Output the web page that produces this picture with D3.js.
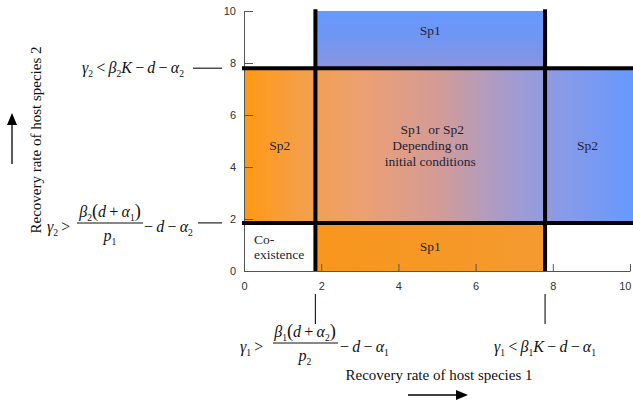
<!DOCTYPE html>
<html>
<head>
<meta charset="utf-8">
<script src="https://cdn.jsdelivr.net/npm/d3@7"></script>
<style>
  html, body { margin: 0; padding: 0; background: #fff; }
  svg { display: block; }
</style>
</head>
<body>
<svg id="chart" width="633" height="401"></svg>
<script>
// Axis ticks (recovery rates of host species 1 and 2)
const xTicks = [0, 2, 4, 6, 8, 10];
const yTicks = [0, 2, 4, 6, 8, 10];

// Threshold values splitting the parameter plane
const gamma1Breaks = [0, 1.85, 7.8, 10];   // species 1 recovery rate
const gamma2Breaks = [0, 1.85, 7.8, 10];   // species 2 recovery rate

// Outcome in each cell, rows from low to high gamma2, columns from low to high gamma1
const outcomeRows = [
  ["Co-existence", "Sp1 low", null],
  ["Sp2 left", "Either", "Sp2 right"],
  [null, "Sp1 top", null]
];
const outcomeLabels = {
  "Co-existence": ["Co-", "existence"],
  "Sp1 low": ["Sp1"],
  "Sp2 left": ["Sp2"],
  "Either": ["Sp1  or Sp2", "Depending on", "initial conditions"],
  "Sp2 right": ["Sp2"],
  "Sp1 top": ["Sp1"]
};

const svg = d3.select("#chart");
const serif = "'Liberation Serif', 'Times New Roman', serif";
const sans = "'Liberation Sans', Arial, sans-serif";

const x = d3.scaleLinear().domain([0, 10]).range([244, 630]);
const y = d3.scaleLinear().domain([0, 10]).range([271, 11]);

// Gradients
const defs = svg.append("defs");
const band = defs.append("linearGradient")
  .attr("id", "midBand").attr("gradientUnits", "userSpaceOnUse")
  .attr("x1", x(0)).attr("x2", x(10.1)).attr("y1", 0).attr("y2", 0);
[[0, "#ff9914"], [0.17, "#f3a050"], [0.3, "#eda072"], [0.5, "#d39b97"],
 [0.7, "#a09bd4"], [0.8, "#8c9ae4"], [1, "#6699ff"]]
  .forEach(([o, c]) => band.append("stop").attr("offset", o).attr("stop-color", c));

const topGrad = defs.append("linearGradient")
  .attr("id", "topBand").attr("x1", 0).attr("x2", 0).attr("y1", 0).attr("y2", 1);
[[0, "#6698ff"], [0.5, "#7196f2"], [1, "#8c94dc"]]
  .forEach(([o, c]) => topGrad.append("stop").attr("offset", o).attr("stop-color", c));

const lowGrad = defs.append("linearGradient")
  .attr("id", "lowBand").attr("x1", 0).attr("x2", 1).attr("y1", 0).attr("y2", 0);
[[0, "#f8961c"], [1, "#f49a30"]]
  .forEach(([o, c]) => lowGrad.append("stop").attr("offset", o).attr("stop-color", c));

const fillFor = key => {
  if (key === "Co-existence") return "#ffffff";
  if (key === "Sp1 low") return "url(#lowBand)";
  if (key === "Sp1 top") return "url(#topBand)";
  return "url(#midBand)";
};

// Cells
const cells = [];
outcomeRows.forEach((row, r) => row.forEach((key, c) => {
  if (key) cells.push({
    key,
    x0: gamma1Breaks[c], x1: c === 2 ? 10.1 : gamma1Breaks[c + 1],
    y0: gamma2Breaks[r], y1: gamma2Breaks[r + 1]
  });
}));

svg.append("g").selectAll("rect").data(cells).join("rect")
  .attr("x", d => x(d.x0)).attr("y", d => y(d.y1))
  .attr("width", d => x(d.x1) - x(d.x0))
  .attr("height", d => y(d.y0) - y(d.y1))
  .attr("fill", d => fillFor(d.key));

// Axes with inward ticks
const axisColor = "#555";
const gx = svg.append("g").attr("transform", `translate(0,${y(0)})`)
  .call(d3.axisBottom(x).tickValues(xTicks).tickSize(-7).tickPadding(11).tickSizeOuter(0));
const gy = svg.append("g").attr("transform", `translate(${x(0)},0)`)
  .call(d3.axisLeft(y).tickValues(yTicks).tickSize(-9).tickPadding(8).tickSizeOuter(0));
[gx, gy].forEach(g => {
  g.select(".domain").attr("stroke", axisColor);
  g.selectAll(".tick line").attr("stroke", axisColor);
  g.selectAll(".tick text").attr("fill", "#333").style("font-family", sans).style("font-size", "11px");
});
// keep the last x label inside the frame
gx.selectAll(".tick text").filter(d => d === 10).attr("text-anchor", "end").attr("dx", 1);

// Threshold lines
const thick = svg.append("g").attr("stroke", "#000").attr("stroke-width", 4);
[gamma2Breaks[1], gamma2Breaks[2]].forEach(v => {
  thick.append("line").attr("x1", x(0) - 2).attr("x2", 633).attr("y1", y(v)).attr("y2", y(v));
});
[gamma1Breaks[1], gamma1Breaks[2]].forEach(v => {
  thick.append("line").attr("x1", x(v)).attr("x2", x(v)).attr("y1", y(10.07)).attr("y2", y(0));
});

// Outcome labels
const labelPos = {
  "Co-existence": { dx: 10, anchor: "start", top: 244, lh: 14.5 }
};
cells.forEach(d => {
  const lines = outcomeLabels[d.key];
  const p = labelPos[d.key] || {};
  const cx = p.anchor === "start" ? x(d.x0) + p.dx : (x(d.x0) + x(Math.min(d.x1, 10))) / 2;
  let cy = (y(d.y0) + y(d.y1)) / 2;
  if (d.key === "Sp1 top") cy = 30;
  const lh = p.lh || 16;
  const first = p.top !== undefined ? p.top : cy - (lines.length - 1) * lh / 2 + 4.5;
  const t = svg.append("text")
    .attr("text-anchor", p.anchor || "middle")
    .attr("fill", "#231f35")
    .style("font-family", serif).style("font-size", "13.5px");
  lines.forEach((ln, i) => t.append("tspan").attr("x", cx + (d.key === "Either" && i === 0 ? 2 : 0))
    .attr("y", first + i * lh).attr("xml:space", "preserve").text(ln));
});

// Math expression renderer: segments of {t, it, sub, big}
function mathRun(g, xPos, base, segs, size, anchor) {
  const t = g.append("text").attr("x", xPos).attr("y", base)
    .attr("text-anchor", anchor || "start")
    .attr("fill", "#111").style("font-family", serif).style("font-size", size + "px");
  let lowered = false;
  segs.forEach(s => {
    const sp = t.append("tspan").text(s.t);
    if (s.it) sp.style("font-style", "italic");
    if (s.big) sp.style("font-size", (size * 1.15) + "px");
    if (s.sub) {
      sp.style("font-size", (size * 0.6) + "px");
      if (!lowered) { sp.attr("dy", size * 0.25); lowered = true; }
    } else if (lowered) { sp.attr("dy", -size * 0.25); lowered = false; }
    if (s.gap) sp.attr("dx", s.gap);
  });
  return t;
}
const sym = (t, gap) => ({ t, gap });
const big = t => ({ t, big: true });
const it = (t, gap) => ({ t, it: true, gap });
const sub = t => ({ t, sub: true });
const op = o => sym("\u2009" + o + "\u2009");

const fs = 16;
const mg = svg.append("g");

// gamma2 < beta2 K - d - alpha2
mathRun(mg, 184, 73, [it("γ"), sub("2"), op("<"), it("β"), sub("2"), it("K"), op("−"), it("d"), op("−"), it("α"), sub("2")], fs, "end");

// gamma2 > beta2 (d + alpha1) / p1 - d - alpha2
mathRun(mg, 47, 232, [it("γ"), sub("2"), op(">")], fs);
mathRun(mg, 110, 217, [it("β"), sub("2"), big("("), it("d"), op("+"), it("α"), sub("1"), big(")")], fs, "middle");
mg.append("line").attr("x1", 77).attr("x2", 143).attr("y1", 223).attr("y2", 223).attr("stroke", "#111").attr("stroke-width", 1);
mathRun(mg, 110, 241, [it("p"), sub("1")], fs, "middle");
mathRun(mg, 144, 232, [sym("−\u2009"), it("d"), op("−"), it("α"), sub("2")], fs);

// gamma1 > beta1 (d + alpha2) / p2 - d - alpha1
mathRun(mg, 240, 352, [it("γ"), sub("1"), op(">")], fs);
mathRun(mg, 305, 337, [it("β"), sub("1"), big("("), it("d"), op("+"), it("α"), sub("2"), big(")")], fs, "middle");
mg.append("line").attr("x1", 273).attr("x2", 338).attr("y1", 343).attr("y2", 343).attr("stroke", "#111").attr("stroke-width", 1);
mathRun(mg, 305, 361, [it("p"), sub("2")], fs, "middle");
mathRun(mg, 340, 352, [sym("−\u2009"), it("d"), op("−"), it("α"), sub("1")], fs);

// gamma1 < beta1 K - d - alpha1
mathRun(mg, 494, 352, [it("γ"), sub("1"), op("<"), it("β"), sub("1"), it("K"), op("−"), it("d"), op("−"), it("α"), sub("1")], fs);

// Connector ticks from thresholds to expressions
const conn = svg.append("g").attr("stroke", "#222").attr("stroke-width", 1.2);
conn.append("line").attr("x1", 193).attr("x2", 222).attr("y1", y(gamma2Breaks[2])).attr("y2", y(gamma2Breaks[2]));
conn.append("line").attr("x1", 198).attr("x2", 222).attr("y1", y(gamma2Breaks[1])).attr("y2", y(gamma2Breaks[1]));
[gamma1Breaks[1], gamma1Breaks[2]].forEach(v =>
  conn.append("line").attr("x1", x(v)).attr("x2", x(v)).attr("y1", 294).attr("y2", 324));

// Axis titles with direction arrows
function arrow(x1, y1, x2, y2) {
  const ang = Math.atan2(y2 - y1, x2 - x1);
  const len = 12, half = 5;
  const bx = x2 - len * Math.cos(ang), by = y2 - len * Math.sin(ang);
  svg.append("line").attr("x1", x1).attr("y1", y1).attr("x2", bx).attr("y2", by)
    .attr("stroke", "#000").attr("stroke-width", 1.3);
  const px = -Math.sin(ang) * half, py = Math.cos(ang) * half;
  svg.append("path")
    .attr("d", `M${x2},${y2}L${bx + px},${by + py}L${bx - px},${by - py}Z`)
    .attr("fill", "#000");
}

svg.append("text").attr("x", 439).attr("y", 380).attr("text-anchor", "middle")
  .attr("fill", "#111").style("font-family", serif).style("font-size", "15px")
  .text("Recovery rate of host species 1");
arrow(408, 395, 468, 395);

svg.append("text").attr("transform", "translate(41,140) rotate(-90)").attr("text-anchor", "middle")
  .attr("fill", "#111").style("font-family", serif).style("font-size", "15px")
  .text("Recovery rate of host species 2");
arrow(12, 164, 12, 113);
</script>
</body>
</html>
